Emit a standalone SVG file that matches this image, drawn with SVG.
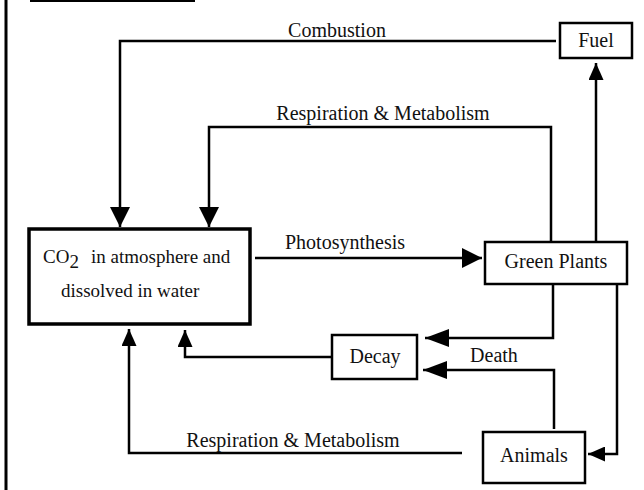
<svg xmlns="http://www.w3.org/2000/svg" width="644" height="490" viewBox="0 0 644 490">
<style>
text{font-family:'Liberation Serif','Times New Roman','DejaVu Serif',serif;font-size:20px;fill:#111}
text.c{font-size:19px}
.box{fill:#fff;stroke:#000;stroke-width:2.5}
.ln{fill:none;stroke:#000;stroke-width:2.5}
</style>
<defs>
<marker id="big" markerUnits="userSpaceOnUse" markerWidth="20" markerHeight="20" refX="20" refY="10" orient="auto"><path d="M0,0 L20,10 L0,20 z" fill="#000"/></marker>
<marker id="med" markerUnits="userSpaceOnUse" markerWidth="24" markerHeight="18" refX="24" refY="9" orient="auto"><path d="M0,0 L24,9 L0,18 z" fill="#000"/></marker>
<marker id="sm" markerUnits="userSpaceOnUse" markerWidth="17" markerHeight="15" refX="17" refY="7.5" orient="auto"><path d="M0,0 L17,7.5 L0,15 z" fill="#000"/></marker>
</defs>
<rect width="644" height="490" fill="#fff"/>
<line x1="6" y1="0" x2="6" y2="490" stroke="#000" stroke-width="3"/>
<line x1="30" y1="1" x2="195" y2="1" stroke="#000" stroke-width="2"/>
<g id="connectors">
<polyline class="ln" points="556,41 120,41 120,227" marker-end="url(#big)"/>
<polyline class="ln" points="551,242 551,127 209,127 209,227" marker-end="url(#big)"/>
<line class="ln" x1="596" y1="242" x2="596" y2="63" marker-end="url(#sm)"/>
<line class="ln" x1="255" y1="258" x2="482" y2="258" marker-end="url(#big)"/>
<polyline class="ln" points="553,284 553,338 425,338" marker-end="url(#med)"/>
<polyline class="ln" points="554,429 554,370 423,370" marker-end="url(#med)"/>
<polyline class="ln" points="332,357 185,357 185,330" marker-end="url(#sm)"/>
<polyline class="ln" points="617,284 617,454 588,454" marker-end="url(#sm)"/>
<polyline class="ln" points="462,453 129,453 129,329" marker-end="url(#sm)"/>
<text x="337" y="37" text-anchor="middle">Combustion</text>
<text x="383" y="120" text-anchor="middle">Respiration &amp; Metabolism</text>
<text x="345" y="249" text-anchor="middle">Photosynthesis</text>
<text x="494" y="362" text-anchor="middle">Death</text>
<text x="293" y="447" text-anchor="middle">Respiration &amp; Metabolism</text>
</g>
<g id="fuel"><rect class="box" x="560" y="23" width="72" height="35"/><text x="596" y="47" text-anchor="middle">Fuel</text></g>
<g id="co2"><rect x="29" y="229" width="221" height="95" fill="#fff" stroke="#000" stroke-width="3.5"/>
<text class="c" x="43" y="263">CO<tspan dy="5">2</tspan><tspan dy="-5" x="91">in atmosphere and</tspan></text>
<text class="c" x="61" y="297">dissolved in water</text></g>
<g id="green"><rect class="box" x="485" y="242" width="142" height="42"/><text x="556" y="268" text-anchor="middle">Green Plants</text></g>
<g id="decay"><rect class="box" x="332" y="335" width="85" height="44"/><text x="375" y="363" text-anchor="middle">Decay</text></g>
<g id="animals"><rect class="box" x="483" y="432" width="102" height="51"/><text x="534" y="462" text-anchor="middle">Animals</text></g>
</svg>
